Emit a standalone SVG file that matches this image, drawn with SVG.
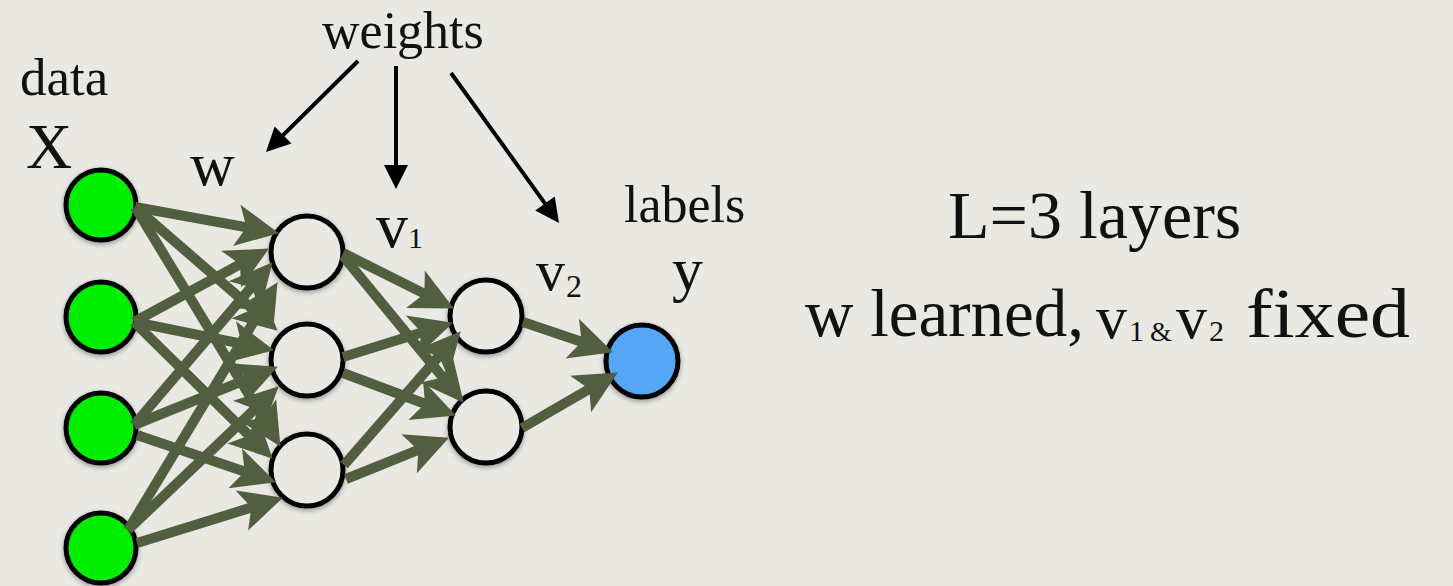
<svg xmlns="http://www.w3.org/2000/svg" width="1453" height="586" viewBox="0 0 1453 586">
  <style>
    .t { font-family: "Liberation Serif", "Times New Roman", serif; fill: #111; }
    .node { stroke: #000; stroke-width: 5; filter: url(#sh); }
    .in { fill: #00ef00; }
    .hid { fill: #e9e8e2; }
    .out { fill: #54a7f5; }
    .edge { stroke: #515e3f; stroke-width: 10; fill: none; marker-end: url(#ga); }
    .wt { stroke: #000; stroke-width: 4; fill: none; marker-end: url(#ba); }
  </style>
  <defs>
    <filter id="sh" x="-30%" y="-30%" width="160%" height="160%">
      <feDropShadow dx="0" dy="2" stdDeviation="2.5" flood-color="#000" flood-opacity="0.35"/>
    </filter>
    <marker id="ga" markerUnits="userSpaceOnUse" viewBox="0 -22 45 44" markerWidth="45" markerHeight="44" refX="12" refY="0" orient="auto" overflow="visible">
      <path d="M0,-21 L43,0 L0,21 L10,0 Z" fill="#515e3f"/>
    </marker>
    <marker id="ba" markerUnits="userSpaceOnUse" viewBox="0 -13 25 26" markerWidth="25" markerHeight="26" refX="6" refY="0" orient="auto" overflow="visible">
      <path d="M0,-12 L24,0 L0,12 Z" fill="#000"/>
    </marker>
  </defs>
  <rect width="1453" height="586" fill="#e9e8e2"/>

  <g id="labels">
    <text class="t" x="322" y="48" font-size="52">weights</text>
    <text class="t" x="20" y="95" font-size="53">data</text>
    <text class="t" x="26" y="168" font-size="64">X</text>
    <text class="t" x="190" y="185" font-size="62">w</text>
    <text class="t" x="376" y="247" font-size="64">v<tspan font-size="30" x="408" y="248">1</tspan></text>
    <text class="t" x="536" y="290" font-size="58">v<tspan font-size="32" x="566" y="297">2</tspan></text>
    <text class="t" x="624" y="222" font-size="52">labels</text>
    <text class="t" x="672" y="290" font-size="62">y</text>
  </g>

  <g id="caption">
    <text class="t" x="948" y="238" font-size="68">L=3 layers</text>
    <text class="t" x="805" y="336" font-size="67">w learned,</text>
    <text class="t" font-size="62"><tspan x="1096" y="338">v</tspan><tspan x="1129" y="341" font-size="30">1</tspan><tspan x="1150" y="341" font-size="28">&amp;</tspan><tspan x="1176" y="338">v</tspan><tspan x="1209" y="341" font-size="30">2</tspan></text>
    <text class="t" x="1246" y="337" font-size="70" textLength="164" lengthAdjust="spacingAndGlyphs">fixed</text>
  </g>

  <g id="input-1"><circle class="node in" cx="101" cy="205" r="35"/></g>
  <g id="input-2"><circle class="node in" cx="101" cy="317" r="35"/></g>
  <g id="input-3"><circle class="node in" cx="101" cy="428" r="35"/></g>
  <g id="input-4"><circle class="node in" cx="101" cy="548" r="35"/></g>
  <g id="hidden1-1"><circle class="node hid" cx="307" cy="252" r="36"/></g>
  <g id="hidden1-2"><circle class="node hid" cx="307" cy="360" r="36"/></g>
  <g id="hidden1-3"><circle class="node hid" cx="307" cy="470" r="36"/></g>
  <g id="hidden2-1"><circle class="node hid" cx="486" cy="316" r="36"/></g>
  <g id="hidden2-2"><circle class="node hid" cx="486" cy="427" r="36"/></g>
  <g id="output"><circle class="node out" cx="642" cy="361" r="36"/></g>

  <g id="connectors">
    <line class="edge" x1="135" y1="207" x2="248.5" y2="227.6"/>
    <line class="edge" x1="135" y1="207" x2="254.3" y2="310.4"/>
    <line class="edge" x1="135" y1="207" x2="264.4" y2="420.3"/>
    <line class="edge" x1="134" y1="322" x2="241.7" y2="263.4"/>
    <line class="edge" x1="134" y1="322" x2="243.6" y2="344.1"/>
    <line class="edge" x1="134" y1="322" x2="250.6" y2="436.9"/>
    <line class="edge" x1="134" y1="425" x2="252.5" y2="285.8"/>
    <line class="edge" x1="134" y1="425" x2="249.2" y2="378.3"/>
    <line class="edge" x1="137" y1="435" x2="246.6" y2="472.3"/>
    <line class="edge" x1="128" y1="530" x2="261.5" y2="308.7"/>
    <line class="edge" x1="128" y1="530" x2="256.3" y2="407.7"/>
    <line class="edge" x1="137" y1="543" x2="253.3" y2="506.9"/>

    <line class="edge" x1="343" y1="253" x2="426.2" y2="294.6"/>
    <line class="edge" x1="343" y1="256" x2="444" y2="378.8"/>
    <line class="edge" x1="343" y1="357" x2="423.4" y2="331.9"/>
    <line class="edge" x1="343" y1="373" x2="426.9" y2="404.5"/>
    <line class="edge" x1="344" y1="465" x2="440.3" y2="354.6"/>
    <line class="edge" x1="346" y1="479" x2="420.2" y2="449.2"/>

    <line class="edge" x1="523" y1="322" x2="583.6" y2="342.4"/>
    <line class="edge" x1="522" y1="428" x2="591" y2="388"/>

    <line class="wt" x1="358" y1="61" x2="278.8" y2="139.3"/>
    <line class="wt" x1="396" y1="66" x2="396" y2="171"/>
    <line class="wt" x1="451" y1="73" x2="548.5" y2="208.4"/>
  </g>
</svg>
